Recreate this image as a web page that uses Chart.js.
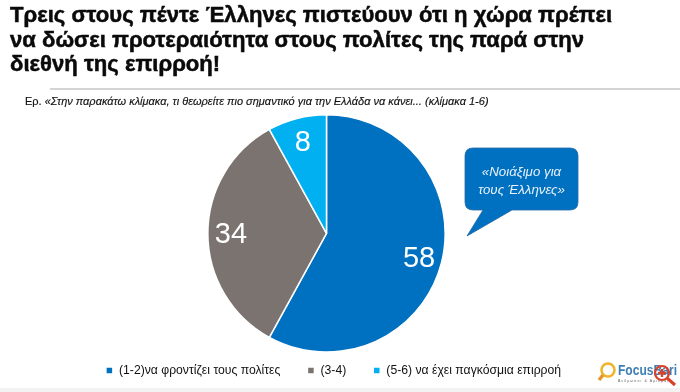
<!DOCTYPE html>
<html>
<head>
<meta charset="utf-8">
<script src="https://cdn.jsdelivr.net/npm/chart.js@4"></script>
<style>
  html, body { margin: 0; padding: 0; background: #fff; overflow: hidden; }
  #wrap { position: relative; width: 680px; height: 392px; overflow: hidden; font-family: "Liberation Sans", Arial, sans-serif; }
  #chart { position: absolute; left: 0; top: 0; }
  .title { position: absolute; left: 10px; top: 3px; font-size: 21.5px; line-height: 24.5px; font-weight: bold; color: #0a0a0a; white-space: nowrap; transform: scaleX(1.028); transform-origin: left top; -webkit-text-stroke: 0.5px #0a0a0a; }
  .rule { position: absolute; left: 50px; top: 88px; width: 630px; height: 2px; background: #d4d4d4; }
  .question { position: absolute; left: 25px; top: 95px; font-size: 11px; color: #111; white-space: nowrap; -webkit-text-stroke: 0.15px #111; }
  .bubble { position: absolute; left: 0; top: 0; }
  .bubble-text { position: absolute; left: 465px; top: 163px; width: 113px; text-align: center; font-size: 13.3px; line-height: 17.5px; font-style: italic; color: #e8f2fa; }
  .strip { position: absolute; left: 0; top: 388px; width: 680px; height: 4px; background: #f2f2f2; }
  .logo { position: absolute; left: 0; top: 0; }
</style>
</head>
<body>
<div id="wrap">
  <canvas id="chart" width="680" height="392"></canvas>
  <div class="title">Τρεις στους πέντε Έλληνες πιστεύουν ότι η χώρα πρέπει<br>να δώσει προτεραιότητα στους πολίτες της παρά στην<br>διεθνή της επιρροή!</div>
  <div class="rule"></div>
  <div class="question">Ερ. <i>«Στην παρακάτω κλίμακα, τι θεωρείτε πιο σημαντικό για την Ελλάδα να κάνει... (κλίμακα 1-6)</i></div>
  <svg class="bubble" width="680" height="392">
    <path d="M473 148 H570 Q578 148 578 156 V202 Q578 210 570 210 H512 L467 236 L483 210 H473 Q465 210 465 202 V156 Q465 148 473 148 Z" fill="#0070c0" stroke="#2a6aa8" stroke-width="0.8"/>
  </svg>
  <div class="bubble-text">«Νοιάξιμο για<br>τους Έλληνες»</div>
  <div class="strip"></div>
  <svg class="logo" width="680" height="392">
    <circle cx="608" cy="370" r="6.5" fill="none" stroke="#f0b429" stroke-width="2.5"/>
    <line x1="603" y1="375" x2="599" y2="380" stroke="#e8962a" stroke-width="3.5"/>
    <text x="618" y="375" font-family="Liberation Sans" font-size="15" font-weight="bold" fill="#3f7fb5" textLength="59" lengthAdjust="spacingAndGlyphs">FocusBari</text>
    <text x="618" y="382" font-family="Liberation Sans" font-size="3.5" fill="#666" textLength="50">Άνθρωποι &amp; Αριθμοί</text>
    <circle cx="662" cy="373" r="7" fill="none" stroke="#d9412b" stroke-width="2.2"/>
    <line x1="667" y1="378" x2="675" y2="385" stroke="#d9412b" stroke-width="3"/>
    <path d="M662 369 V377 M658 373 H666" stroke="#d9412b" stroke-width="2.4"/>
  </svg>
</div>
<script>
const categories = ['(1-2)να φροντίζει τους πολίτες', '(3-4)', '(5-6) να έχει παγκόσμια επιρροή'];
const values = [58, 34, 8];
const colors = ['#0070c0', '#7b7370', '#00b0f0'];

// draws the number on each slice
const sliceLabels = {
  id: 'sliceLabels',
  afterDatasetsDraw(chart) {
    const ctx = chart.ctx;
    const arcs = chart.getDatasetMeta(0).data;
    ctx.save();
    ctx.fillStyle = '#fff';
    ctx.font = '29px "Liberation Sans", Arial, sans-serif';
    ctx.textAlign = 'center';
    ctx.textBaseline = 'middle';
    arcs.forEach((arc, i) => {
      const mid = (arc.startAngle + arc.endAngle) / 2;
      const r = arc.outerRadius * 0.805;
      ctx.fillText(values[i], arc.x + Math.cos(mid) * r, arc.y + Math.sin(mid) * r + 2);
    });
    ctx.restore();
  }
};

// legend sits a bit off the pie centre in the original
const moveLegend = {
  id: 'moveLegend',
  afterLayout(chart) {
    const lg = chart.legend;
    lg.left += 7;
    lg.right += 7;
    lg.top -= 15.5;
    lg.bottom -= 15.5;
  }
};

new Chart(document.getElementById('chart'), {
  type: 'pie',
  data: {
    labels: categories,
    datasets: [{
      data: values,
      backgroundColor: colors,
      borderColor: '#fff',
      borderWidth: 1.5
    }]
  },
  plugins: [sliceLabels, moveLegend],
  options: {
    responsive: false,
    animation: false,
    layout: { padding: { top: 114, bottom: -10, left: 0, right: 27 } },
    plugins: {
      tooltip: { enabled: false },
      legend: {
        position: 'bottom',
        labels: {
          boxWidth: 7,
          boxHeight: 7,
          padding: 27,
          color: '#111',
          font: { family: '"Liberation Sans", Arial, sans-serif', size: 12.2 }
        }
      }
    }
  }
});
</script>
</body>
</html>
